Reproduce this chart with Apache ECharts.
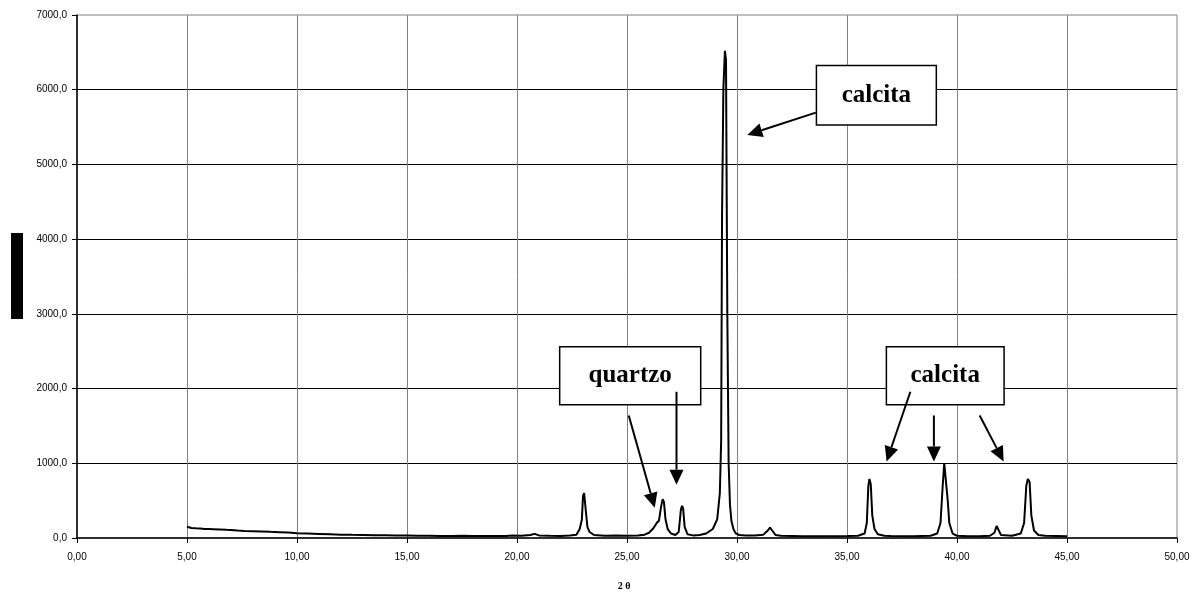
<!DOCTYPE html>
<html>
<head>
<meta charset="utf-8">
<script src="https://cdn.jsdelivr.net/npm/echarts@6/dist/echarts.min.js"></script>
<style>html,body{margin:0;padding:0;background:#fff;}#c{width:1204px;height:595px;}</style>
</head>
<body>
<div id="c"></div>
<script>
// 2θ positions (degrees)
var theta = [
5.00,5.05,5.20,5.40,5.60,5.80,6.00,6.20,6.50,6.80,7.00,7.30,7.60,8.00,8.40,8.80,9.20,9.60,10.00,10.50,
11.00,11.50,12.00,12.50,13.00,13.50,14.00,14.50,15.00,15.50,16.00,16.50,17.00,17.50,18.00,18.50,19.00,19.50,19.80,20.20,
20.60,20.80,21.00,21.50,22.00,22.40,22.70,22.85,22.95,23.00,23.05,23.10,23.15,23.20,23.30,23.50,24.00,24.50,25.00,25.50,
25.80,26.00,26.20,26.35,26.45,26.55,26.62,26.68,26.75,26.85,27.00,27.20,27.35,27.45,27.50,27.55,27.62,27.75,28.00,28.30,
28.60,28.90,29.10,29.22,29.28,29.32,29.38,29.45,29.50,29.56,29.62,29.68,29.75,29.85,29.95,30.10,30.40,30.80,31.20,31.40,
31.50,31.60,31.75,32.00,33.00,34.00,35.00,35.50,35.80,35.90,35.97,36.02,36.08,36.15,36.25,36.40,36.70,37.00,38.00,38.80,
39.10,39.25,39.35,39.42,39.50,39.58,39.65,39.80,40.00,40.50,41.00,41.50,41.70,41.80,41.90,42.00,42.50,42.90,43.05,43.15,
43.22,43.30,43.38,43.50,43.70,44.00,44.50,45.00
];
// intensity (counts)
var counts = [
150,140,135,130,128,122,120,118,115,110,108,100,95,92,88,82,78,72,65,60,
55,50,45,42,40,38,36,34,32,30,30,28,28,30,26,28,26,28,35,30,
40,55,35,30,28,32,45,120,250,560,600,580,300,150,80,40,30,32,30,32,
45,70,130,200,230,420,520,480,250,120,60,40,80,380,430,400,150,50,35,40,
60,120,250,600,1300,4300,6000,6520,6400,3000,1000,450,220,110,60,40,35,35,45,100,
140,100,40,30,25,25,28,30,60,200,700,790,720,300,120,50,30,28,25,30,
60,200,700,1000,980,500,200,60,30,25,25,30,70,160,100,40,30,60,200,700,
790,750,300,100,40,30,28,25
];
var yTicks = [0,1000,2000,3000,4000,5000,6000,7000];
var xTicks = [0,5,10,15,20,25,30,35,40,45,50];
// annotation boxes [x1, y1(top), x2, y2(bottom)] in data units, with label
var boxLabels = ['calcita','quartzo','calcita'];
var boxes = [[33.61,6323,39.06,5529],[21.94,2559,28.35,1783],[36.79,2559,42.14,1783]];
// arrows [fromX, fromY, toX, toY] in data units
var arrows = [
[33.58,5693,30.47,5395],
[25.08,1640,26.26,405],
[27.25,1957,27.25,713],
[37.88,1957,36.80,1025],
[38.95,1640,38.95,1025],
[41.03,1640,42.12,1025]
];

var data = theta.map(function(t,i){return [t,counts[i]];});
var chart = echarts.init(document.getElementById('c'));
var lab = {color:'#000',fontFamily:'Liberation Sans',fontSize:10};
chart.setOption({
  animation:false,
  backgroundColor:'#fff',
  grid:{left:77,right:27,top:15,bottom:57,show:true,borderColor:'#808080',borderWidth:1,backgroundColor:'transparent'},
  xAxis:{type:'value',min:0,max:50,interval:5,
    axisLine:{show:true,lineStyle:{color:'#000',width:1.5}},
    axisTick:{show:true,length:5,lineStyle:{color:'#000'}},
    axisLabel:Object.assign({margin:14,formatter:function(v){return v.toFixed(2).replace('.',',');}},lab),
    splitLine:{show:true,showMinLine:false,showMaxLine:false,lineStyle:{color:'#808080',width:1}}
  },
  yAxis:{type:'value',min:0,max:7000,interval:1000,
    axisLine:{show:true,lineStyle:{color:'#000',width:1.5}},
    axisTick:{show:true,length:5,lineStyle:{color:'#000'}},
    axisLabel:Object.assign({margin:10,formatter:function(v){return v.toFixed(1).replace('.',',');}},lab),
    splitLine:{show:true,showMinLine:false,showMaxLine:false,lineStyle:{color:'#000',width:1}}
  },
  series:[{type:'line',data:data,showSymbol:false,symbol:'none',lineStyle:{color:'#000',width:2},z:3}]
});

function px(x,y){return chart.convertToPixel({gridIndex:0},[x,y]);}
var g = [];
g.push({type:'rect',shape:{x:11,y:233,width:12,height:86},style:{fill:'#000'}});
g.push({type:'text',style:{text:'2 θ',x:624,y:586,align:'center',verticalAlign:'middle',font:'bold 10px "Liberation Serif"',fill:'#000'}});
boxes.forEach(function(b,i){
  var p1=px(b[0],b[1]), p2=px(b[2],b[3]);
  g.push({type:'rect',z:10,shape:{x:p1[0],y:p1[1],width:p2[0]-p1[0],height:p2[1]-p1[1]},style:{fill:'#fff',stroke:'#000',lineWidth:1.5}});
  g.push({type:'text',z:11,style:{text:boxLabels[i],x:(p1[0]+p2[0])/2,y:(p1[1]+p2[1])/2,align:'center',verticalAlign:'middle',font:'bold 25px "Liberation Serif"',fill:'#000'}});
});
arrows.forEach(function(a){
  var s=px(a[0],a[1]), e=px(a[2],a[3]);
  var dx=e[0]-s[0], dy=e[1]-s[1], L=Math.sqrt(dx*dx+dy*dy);
  var ux=dx/L, uy=dy/L, hl=15, hw=7;
  var bx=e[0]-ux*hl, by=e[1]-uy*hl;
  g.push({type:'line',z:10,shape:{x1:s[0],y1:s[1],x2:bx,y2:by},style:{stroke:'#000',lineWidth:2}});
  g.push({type:'polygon',z:10,shape:{points:[[e[0],e[1]],[bx-uy*hw,by+ux*hw],[bx+uy*hw,by-ux*hw]]},style:{fill:'#000'}});
});
chart.setOption({graphic:g});
</script>
</body>
</html>
